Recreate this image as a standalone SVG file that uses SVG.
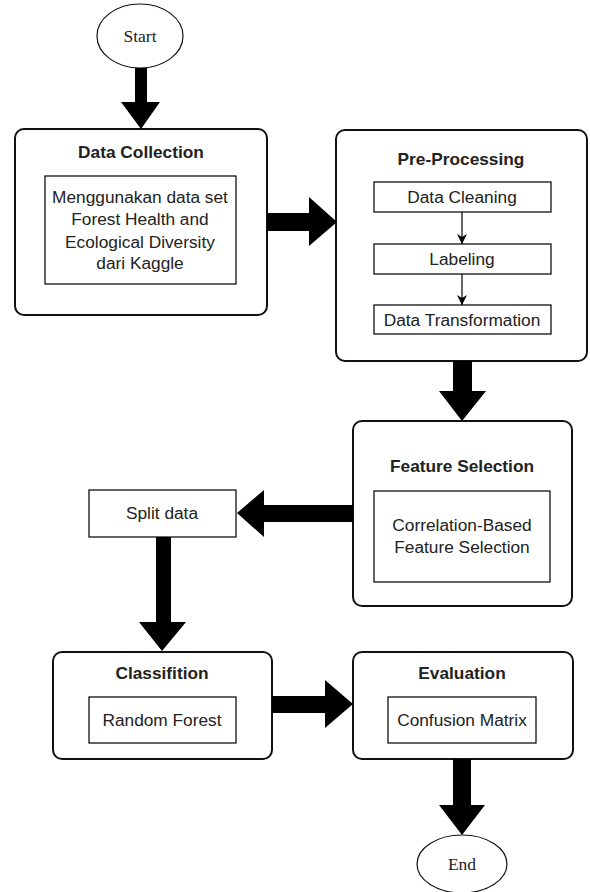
<svg xmlns="http://www.w3.org/2000/svg" width="590" height="892" viewBox="0 0 590 892">
<style>
.box{fill:#fff;stroke:#111;stroke-width:2}
.inner{fill:#fff;stroke:#111;stroke-width:1.3}
.title{font-family:"Liberation Sans",Arial,sans-serif;font-size:17.3px;font-weight:bold;fill:#222;text-anchor:middle}
.body{font-family:"Liberation Sans",Arial,sans-serif;font-size:17.3px;fill:#222;text-anchor:middle}
.term{font-family:"Liberation Serif","Times New Roman",serif;font-size:17.5px;fill:#222;text-anchor:middle}
.big{fill:#000}
.thin{stroke:#000;stroke-width:1.2;fill:none}
</style>
<defs>
<marker id="sm" markerWidth="10" markerHeight="12" refX="10" refY="5" orient="auto" markerUnits="userSpaceOnUse" viewBox="0 0 10 10">
<path d="M0,0 L10,5 L0,10 L3,5 Z" fill="#000"/>
</marker>
</defs>
<g id="start">
<ellipse cx="140" cy="36" rx="43" ry="32" fill="#fff" stroke="#111" stroke-width="1.2"/>
<text class="term" x="140" y="42">Start</text>
</g>
<g id="data-collection">
<rect class="box" x="15" y="129" width="252" height="186" rx="9"/>
<text class="title" x="141" y="158">Data Collection</text>
<rect class="inner" x="45" y="176" width="191" height="108"/>
<text class="body" x="140" y="203">Menggunakan data set</text>
<text class="body" x="140" y="225">Forest Health and</text>
<text class="body" x="140" y="248">Ecological Diversity</text>
<text class="body" x="140" y="269">dari Kaggle</text>
</g>
<g id="pre-processing">
<rect class="box" x="336" y="130" width="251" height="231" rx="9"/>
<text class="title" x="461" y="165">Pre-Processing</text>
<rect class="inner" x="374" y="182" width="177" height="30"/>
<text class="body" x="462" y="203">Data Cleaning</text>
<rect class="inner" x="374" y="244" width="177" height="30"/>
<text class="body" x="462" y="265">Labeling</text>
<rect class="inner" x="374" y="305" width="177" height="29"/>
<text class="body" x="462" y="326">Data Transformation</text>
</g>
<g id="feature-selection">
<rect class="box" x="353" y="421" width="219" height="185" rx="9"/>
<text class="title" x="462" y="472">Feature Selection</text>
<rect class="inner" x="374" y="491" width="176" height="91"/>
<text class="body" x="462" y="531">Correlation-Based</text>
<text class="body" x="462" y="553">Feature Selection</text>
</g>
<g id="split-data">
<rect class="inner" x="89" y="490" width="147" height="47"/>
<text class="body" x="162" y="519">Split data</text>
</g>
<g id="classification">
<rect class="box" x="53" y="652" width="219" height="107" rx="9"/>
<text class="title" x="162" y="679">Classifition</text>
<rect class="inner" x="89" y="697" width="147" height="46"/>
<text class="body" x="162" y="726">Random Forest</text>
</g>
<g id="evaluation">
<rect class="box" x="353" y="652" width="220" height="107" rx="9"/>
<text class="title" x="462" y="679">Evaluation</text>
<rect class="inner" x="388" y="697" width="148" height="46"/>
<text class="body" x="462" y="726">Confusion Matrix</text>
</g>
<g id="end">
<ellipse cx="462" cy="864" rx="45" ry="29" fill="#fff" stroke="#111" stroke-width="1.2"/>
<text class="term" x="462" y="870">End</text>
</g>
<g id="connectors">
<polygon class="big" points="135,68 147,68 147,102 160,102 141,129 121,102 135,102"/>
<polygon class="big" points="267,213 309,213 309,197 337,222 309,246 309,231 267,231"/>
<polygon class="big" points="453,361 472,361 472,391 486,391 462,421 439,391 453,391"/>
<polygon class="big" points="353,505 353,522 264,522 264,537 237,513 264,490 264,505"/>
<polygon class="big" points="156,537 171,537 171,622 186,622 162,651 139,622 156,622"/>
<polygon class="big" points="272,696 325,696 325,680 353,704 325,728 325,713 272,713"/>
<polygon class="big" points="453,759 471,759 471,805 485,805 462,835 439,805 453,805"/>
<line class="thin" x1="462" y1="212" x2="462" y2="244" marker-end="url(#sm)"/>
<line class="thin" x1="462" y1="274" x2="462" y2="305" marker-end="url(#sm)"/>
</g>
</svg>
